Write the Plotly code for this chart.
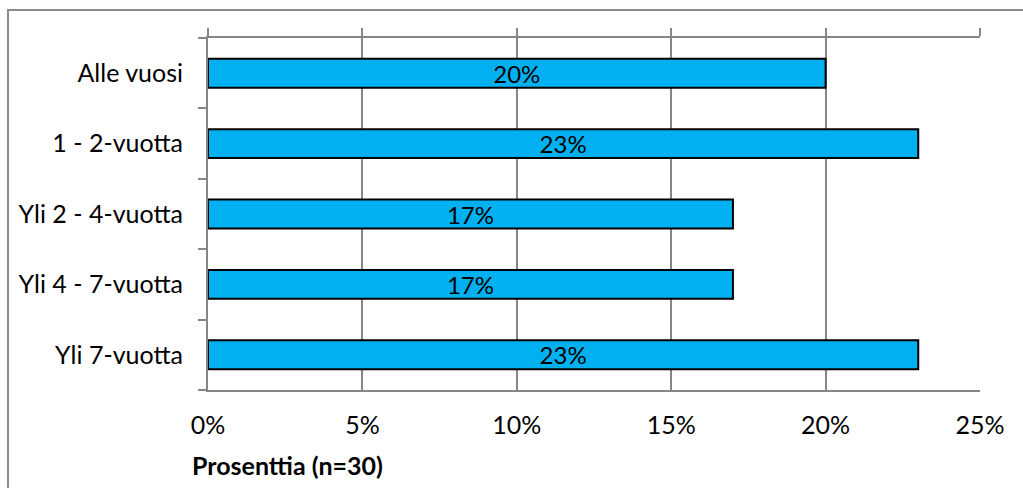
import plotly.graph_objects as go

categories = ["Alle vuosi", "1 - 2-vuotta", "Yli 2 - 4-vuotta", "Yli 4 - 7-vuotta", "Yli 7-vuotta"]
values = [0.20, 0.23, 0.17, 0.17, 0.23]
x_ticks = [0, 0.05, 0.10, 0.15, 0.20, 0.25]
x_tick_labels = ["0%", "5%", "10%", "15%", "20%", "25%"]
axis_title = "Prosenttia (n=30)"

FONT = "Lato"
FS = 25
GRAY = "#878787"

fig = go.Figure()
fig.add_trace(go.Bar(
    y=categories, x=values, orientation="h",
    marker=dict(color="#00B0F0", line=dict(color="black", width=2)),
    width=0.41,
    texttemplate="%{x:.0%}", textposition="inside", insidetextanchor="middle",
    textfont=dict(family=FONT, size=24, color="black"),
    cliponaxis=False, hoverinfo="skip",
))
# invisible trace on the top axis to carry its ticks
fig.add_trace(go.Scatter(x=[0, 0.25], y=[categories[0], categories[0]], xaxis="x2",
                         mode="markers", marker=dict(opacity=0), hoverinfo="skip", showlegend=False))

W, H = 1023, 488
L, R, T, B = 208, 43, 38, 98
pw, ph = W - L - R, H - T - B

fig.update_layout(
    width=W, height=H, margin=dict(l=L, r=R, t=T, b=B),
    plot_bgcolor="white", paper_bgcolor="white", showlegend=False,
    font=dict(family=FONT, size=FS, color="black"),
    bargap=0.59,
    uniformtext=dict(minsize=24, mode="show"),
    xaxis=dict(range=[0, 0.25], tickvals=x_ticks, ticktext=x_tick_labels,
               showgrid=True, gridcolor=GRAY, gridwidth=2,
               showline=True, linecolor=GRAY, linewidth=2,
               ticks="", ticklabelstandoff=12, zeroline=False,
               tickfont=dict(family=FONT, size=FS, color="black")),
    xaxis2=dict(range=[0, 0.25], tickvals=x_ticks, overlaying="x", side="top",
                showticklabels=False, ticks="outside", ticklen=8, tickcolor=GRAY, tickwidth=2,
                showline=True, linecolor=GRAY, linewidth=2, showgrid=False, zeroline=False),
    yaxis=dict(categoryorder="array", categoryarray=categories[::-1],
               tickson="boundaries", ticks="outside", ticklen=8, tickcolor=GRAY, tickwidth=2,
               showline=True, linecolor=GRAY, linewidth=2, showgrid=False,
               ticklabelstandoff=18,
               tickfont=dict(family=FONT, size=FS, color="black")),
)

fig.add_annotation(text="<b>" + axis_title + "</b>", xref="paper", yref="paper",
                   x=(190 - L) / pw, y=(390 - 465) / ph,
                   xanchor="left", yanchor="middle", showarrow=False,
                   font=dict(family=FONT, size=FS, color="black"))

fig.add_shape(type="rect", xref="paper", yref="paper",
              x0=(8 - L) / pw, x1=(1040 - L) / pw,
              y0=(390 - 500) / ph, y1=(390 - 10) / ph,
              line=dict(color="#8c8c8c", width=2), fillcolor="rgba(0,0,0,0)", layer="below")

fig.write_html("out.html")
